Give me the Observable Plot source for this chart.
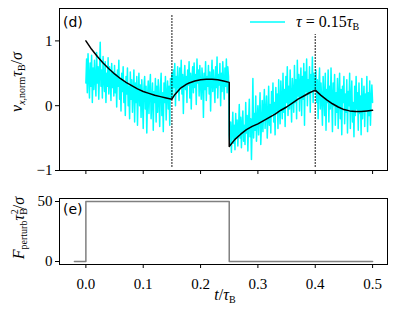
<!DOCTYPE html>
<html><head><meta charset="utf-8">
<script src="https://cdn.jsdelivr.net/npm/d3@7"></script>
<script src="https://cdn.jsdelivr.net/npm/@observablehq/plot@0.6"></script>
<style>
body{margin:0;background:#fff}
#chart{width:396px;height:317px;position:relative;background:#fff}
#chart svg{display:block}
</style>
</head><body><div id="chart"></div>
<script>
// ---------- data ----------
const xDomain = [-0.046, 0.526];
const xTicks = [0, 0.1, 0.2, 0.3, 0.4, 0.5];
const yTicksTop = [-1, 0, 1];
const yTicksBottom = [0, 50];

// noisy simulation (tau = 0.15 tau_B), sampled every 0.00125 from t = 0
const cyanStart = 0;
const cyanStep = 0.00125;
const cyanValues = [
  0.35, 0.72, 0.20, 0.80, 0.45, 0.12, 0.66, 0.30, 0.78, 0.05,
  0.58, 0.25, 0.70, 0.40, 0.15, 0.82, 0.35, 0.60, 0.10, 0.50,
  0.98, 0.30, 0.55, 0.12, 0.76, 0.40, 0.22, 0.68, 0.05, 0.50,
  0.30, 0.74, 0.18, 0.60, 0.38, 0.08, 0.65, 0.28, 0.52, 0.15,
  0.62, 0.20, 0.48, -0.02, 0.55, 0.30, 0.70, 0.10, 0.42, -0.08,
  0.50, 0.22, 0.60, 0.05, 0.35, -0.15, 0.45, 0.18, 0.58, 0.00,
  0.30, -0.20, 0.52, 0.10, 0.40, -0.10, 0.25, 0.55, -0.25, 0.35,
  0.05, 0.45, -0.30, 0.20, 0.50, 0.00, 0.32, -0.18, 0.40, 0.08,
  -0.35, 0.28, 0.45, -0.05, 0.30, -0.42, 0.15, 0.38, -0.12, 0.25,
  0.48, -0.20, 0.10, 0.35, -0.38, 0.22, 0.05, 0.42, -0.25, 0.30,
  -0.10, 0.40, 0.12, -0.32, 0.28, 0.50, -0.15, 0.20, -0.40, 0.35,
  0.05, 0.45, -0.22, 0.18, 0.38, -0.05, 0.30, -0.30, 0.42, 0.10,
  0.50,
  0.15, 0.55, 0.28, 0.65, 0.00, 0.45, 0.22, 0.60, 0.35, 0.08,
  0.58, 0.30, 0.70, 0.18, 0.48, -0.12, 0.40, 0.62, 0.25, 0.45,
  0.05, 0.55, 0.32, 0.68, 0.12, 0.50, -0.05, 0.42, 0.60, 0.20,
  0.66, 0.28, 0.48, 0.02, 0.72, 0.35, 0.55, 0.15, 0.62, 0.30,
  0.10, 0.58, 0.40, -0.18, 0.50, 0.25, 0.68, 0.08, 0.45, 0.30,
  0.62, 0.18, 0.52, -0.08, 0.40, 0.70, 0.22, 0.55, 0.35, 0.05,
  0.60, 0.28, 0.75, 0.12, 0.48, 0.32, 0.65, 0.00, 0.50, 0.22,
  0.68, 0.38, 0.10, 0.58, 0.30, 0.72, 0.20, 0.60, 0.45,
  -0.45,
  -0.60, -0.25, -0.72, -0.38, -0.10, -0.58, -0.30, -0.68, -0.12, -0.48,
  -0.22, -0.62, -0.35, 0.02, -0.50, -0.18, -0.65, -0.28, -0.08, -0.55,
  -0.30, -0.60, 0.05, -0.42, -0.15, -0.70, -0.25, 0.10, -0.48, -0.20,
  -0.83, -0.30, 0.42, -0.50, -0.12, -0.38, 0.15, -0.55, -0.22, 0.00,
  -0.45, -0.15, 0.20, -0.60, -0.28, 0.08, -0.40, -0.05, 0.25, -0.35,
  -0.10, 0.15, -0.50, -0.20, 0.30, -0.30, 0.02, -0.42, 0.22, -0.12,
  0.35, -0.25, 0.05, -0.45, 0.28, -0.08, 0.18, -0.35, 0.40, -0.02,
  -0.28, 0.38, 0.08, -0.20, 0.50, -0.10, 0.25, -0.32, 0.45, 0.05,
  0.60, -0.15, 0.30, -0.05, 0.55, 0.12, -0.25, 0.42, 0.20, -0.10,
  0.62, 0.05, 0.40, -0.20, 0.70, 0.15, 0.48, -0.08, 0.35, 0.58,
  -0.15, 0.45, 0.10, 0.65, -0.30, 0.52, 0.22, 0.72, 0.00, 0.40,
  0.18, 0.60, -0.10, 0.48, 0.25, 0.75, 0.05, 0.50, 0.30,
  0.25,
  0.55, 0.05, 0.40, -0.20, 0.30, 0.58, -0.05, 0.35, 0.10, -0.30,
  0.45, 0.15, -0.15, 0.50, -0.38, 0.25, 0.05, 0.55, -0.25, 0.30,
  -0.05, 0.58, 0.12, -0.40, 0.35, 0.00, 0.48, -0.30, 0.20, -0.10,
  0.42, -0.35, 0.15, 0.50, -0.20, 0.25, -0.45, 0.30, 0.05, 0.45,
  -0.28, 0.18, -0.10, 0.40, -0.42, 0.22, 0.00, 0.50, -0.35, 0.12,
  0.38, -0.25, 0.05, -0.48, 0.30, -0.15, 0.45, -0.05, 0.20, -0.38,
  0.35, -0.12, 0.15, -0.45, 0.42, -0.20, 0.05, 0.30, -0.32, 0.18,
  -0.08, 0.45, -0.40, 0.20, -0.15, 0.38, -0.30, 0.10, 0.32, 0.05
];

// smooth model curve (black)
const modelT = [0, 0.01, 0.02, 0.03, 0.04, 0.05, 0.06, 0.07, 0.08, 0.09, 0.10, 0.11, 0.12, 0.13, 0.14, 0.15,
  0.155, 0.16, 0.165, 0.17, 0.175, 0.18, 0.19, 0.20, 0.21, 0.22, 0.23, 0.24, 0.25, 0.25,
  0.26, 0.27, 0.28, 0.29, 0.30, 0.31, 0.32, 0.33, 0.34, 0.35, 0.36, 0.37, 0.38, 0.39, 0.40,
  0.41, 0.42, 0.43, 0.44, 0.45, 0.46, 0.47, 0.48, 0.49, 0.50];
const modelV = [1.00, 0.87, 0.76, 0.66, 0.57, 0.49, 0.42, 0.36, 0.31, 0.26, 0.22, 0.19, 0.16, 0.14, 0.12, 0.10,
  0.17, 0.22, 0.27, 0.30, 0.33, 0.35, 0.38, 0.40, 0.41, 0.41, 0.40, 0.38, 0.36, -0.63,
  -0.52, -0.44, -0.37, -0.32, -0.28, -0.23, -0.18, -0.13, -0.07, -0.02, 0.04, 0.10, 0.15, 0.20, 0.24,
  0.16, 0.09, 0.03, -0.02, -0.06, -0.08, -0.09, -0.09, -0.08, -0.07];

// dotted vertical markers
const markerT = [0.15, 0.40];
const markerLo = [-0.95, -0.95];
const markerHi = [1.40, 1.10];

// perturbation force (step)
const forceT = [-0.02, 0, 0, 0.25, 0.25, 0.5];
const forceV = [0, 0, 50, 50, 0, 0];

const legendLabel = "0.15";

// ---------- build tables ----------
const cyan = cyanValues.map((v, i) => ({t: cyanStart + i * cyanStep, v}));
const model = modelT.map((t, i) => ({t, v: modelV[i]}));
const markers = markerT.map((t, i) => ({t, lo: markerLo[i], hi: markerHi[i]}));
const force = forceT.map((t, i) => ({t, v: forceV[i]}));

const FONT = "'Liberation Serif', 'DejaVu Serif', serif";
const SANS = "'DejaVu Sans', sans-serif";
const minusFmt = d => (d < 0 ? "\u2212" : "") + Math.abs(d);

const topPlot = Plot.plot({
  width: 396, height: 180,
  marginLeft: 59, marginRight: 9, marginTop: 8, marginBottom: 10,
  style: {background: "white", color: "black", overflow: "visible"},
  x: {domain: xDomain},
  y: {domain: [-1, 1.5]},
  marks: [
    Plot.line(cyan, {x: "t", y: "v", stroke: "#00ffff", strokeWidth: 1.5}),
    Plot.line(model, {x: "t", y: "v", stroke: "black", strokeWidth: 1.5}),
    Plot.ruleX(markers, {x: "t", y1: "lo", y2: "hi", stroke: "black", strokeWidth: 1.2, strokeDasharray: "1.5,1.5"}),
    Plot.axisX({ticks: xTicks, tickFormat: () => "", tickSize: 4, label: null}),
    Plot.axisY({ticks: yTicksTop, tickFormat: minusFmt, tickSize: 4, tickPadding: 3, label: null}),
    Plot.frame({stroke: "black", strokeWidth: 1})
  ]
});

const bottomPlot = Plot.plot({
  width: 396, height: 137,
  marginLeft: 59, marginRight: 9, marginTop: 18, marginBottom: 53,
  style: {background: "white", color: "black", overflow: "visible"},
  x: {domain: xDomain},
  y: {domain: [-2.5, 52.5]},
  marks: [
    Plot.line(force, {x: "t", y: "v", stroke: "#808080", strokeWidth: 1.5}),
    Plot.axisX({ticks: xTicks, tickFormat: d3.format(".1f"), tickSize: 4, tickPadding: 10, label: null}),
    Plot.axisY({ticks: yTicksBottom, tickFormat: minusFmt, tickSize: 4, tickPadding: 3, label: null}),
    Plot.frame({stroke: "black", strokeWidth: 1})
  ]
});

const chart = document.getElementById("chart");
chart.appendChild(topPlot);
chart.appendChild(bottomPlot);

// serif tick labels (Computer Modern look)
d3.selectAll("#chart svg text").style("font-family", FONT).style("font-size", "15px");

// ---------- math-style text helpers ----------
function mathText(parent, attrs, parts, size, family) {
  const t = parent.append("text")
    .attr("text-anchor", "start")
    .attr("fill", "black")
    .style("font-family", family || FONT)
    .style("font-size", size + "px");
  for (const [k, v] of Object.entries(attrs)) t.attr(k, v);
  for (const p of parts) {
    const s = t.append("tspan").text(p.s);
    if (p.i) s.style("font-style", "italic");
    if (p.fs) s.style("font-size", p.fs + "px");
    if (p.dy) s.attr("dy", p.dy);
    if (p.dx) s.attr("dx", p.dx);
  }
  return t;
}

const topSvg = d3.select(topPlot);
const botSvg = d3.select(bottomPlot);

// panel labels
mathText(topSvg, {x: 63, y: 27}, [{s: "(d)"}], 14, SANS);
mathText(botSvg, {x: 63, y: 34}, [{s: "(e)"}], 14, SANS);

// legend
topSvg.append("line").attr("x1", 250).attr("x2", 285).attr("y1", 22).attr("y2", 22)
  .attr("stroke", "#00ffff").attr("stroke-width", 1.5);
mathText(topSvg, {x: 296, y: 27}, [
  {s: "\u03c4", i: true}, {s: " = " + legendLabel}, {s: "\u03c4", i: true},
  {s: "B", fs: 10, dy: 3}
], 16);

// y labels
mathText(topSvg, {transform: "translate(22,82) rotate(-90)", "text-anchor": "middle"}, [
  {s: "v", i: true},
  {s: "x", i: true, fs: 10, dy: 3}, {s: ",norm", fs: 10},
  {s: "\u03c4", i: true, dy: -3},
  {s: "B", fs: 10, dy: 3},
  {s: "/", dy: -3}, {s: "\u03c3", i: true}
], 16);

mathText(botSvg, {transform: "translate(24,48) rotate(-90)", "text-anchor": "middle"}, [
  {s: "F", i: true},
  {s: "perturb", fs: 10, dy: 3},
  {s: "\u03c4", i: true, dy: -3},
  {s: "B", fs: 10, dy: 3},
  {s: "2", fs: 10, dy: -9, dx: -6},
  {s: "/", dy: 6}, {s: "\u03c3", i: true}
], 16);

// x label
mathText(botSvg, {x: 225, y: 120, "text-anchor": "middle"}, [
  {s: "t", i: true}, {s: "/"}, {s: "\u03c4", i: true}, {s: "B", fs: 10, dy: 3}
], 16);
</script></body></html>
